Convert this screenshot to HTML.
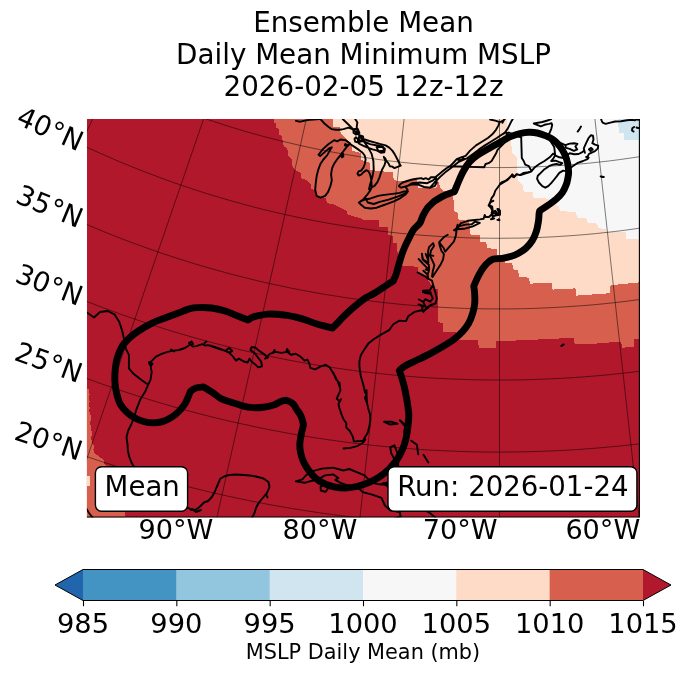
<!DOCTYPE html>
<html lang="en"><head><meta charset="utf-8"><title>Ensemble Mean Daily Mean Minimum MSLP</title>
<style>html,body{margin:0;padding:0;background:#fff;}body{width:688px;height:674px;position:relative;overflow:hidden;font-family:"DejaVu Sans","Liberation Sans",sans-serif;}</style></head>
<body>
<svg width="688" height="674" viewBox="0 0 688 674" style="position:absolute;left:0;top:0;display:block">
<defs><clipPath id="mc"><rect x="86.9" y="118.9" width="553.1" height="398.4"/></clipPath></defs>
<rect x="0" y="0" width="688" height="674" fill="#fff"/>
<g clip-path="url(#mc)">
<rect x="86.9" y="118.9" width="553.1" height="398.4" fill="#b2182b"/>
<path d="M273.5 119.0 L273.5 123.0 L275.7 123.0 L275.7 128.4 L278.4 128.4 L279.2 134.6 L281.9 136.4 L282.8 141.7 L283.7 146.2 L287.3 147.9 L288.1 155.1 L291.7 159.5 L292.6 166.6 L295.3 170.2 L300.6 172.9 L301.5 178.2 L306.8 180.0 L310.4 183.5 L311.3 188.9 L315.7 190.7 L316.6 196.0 L325.5 197.8 L327.3 203.1 L335.3 204.9 L339.8 207.6 L346.0 210.2 L347.8 214.7 L357.6 217.4 L364.7 220.0 L378.9 219.9 L378.9 226.9 L387.8 227.5 L388.4 235.2 L392.6 235.8 L393.1 242.9 L397.3 243.5 L397.9 266.0 L417.5 266.6 L418.1 274.3 L427.0 274.9 L428.0 279.8 L433.4 288.7 L438.3 289.6 L438.3 322.2 L442.5 322.8 L443.1 331.7 L455.5 332.3 L456.0 339.5 L478.1 340.0 L478.7 347.7 L495.9 347.7 L496.5 341.2 L516.0 340.5 L548.5 339.0 L573.5 337.8 L574.8 344.0 L591.0 344.0 L621.0 341.5 L622.2 347.8 L633.5 346.5 L633.5 339.0 L641.0 339.0 L641.0 118.0 L273.5 118.0Z" fill="#d6604d" shape-rendering="crispEdges"/>
<path d="M332.7 118.0 L332.7 127.5 L339.8 126.9 L339.8 131.6 L344.0 137.0 L346.5 139.5 L351.7 144.7 L352.3 150.6 L360.6 153.0 L361.2 160.1 L369.5 162.5 L370.1 169.6 L377.2 170.8 L385.7 171.7 L392.8 172.0 L393.7 180.0 L398.1 181.0 L416.8 180.0 L417.7 188.0 L436.4 188.0 L437.3 181.8 L439.1 181.8 L440.0 188.0 L443.5 190.7 L446.2 191.6 L453.3 197.0 L454.2 211.2 L457.8 213.0 L458.7 220.1 L469.3 220.8 L469.9 229.3 L470.6 235.2 L479.7 235.2 L480.4 241.7 L486.3 242.4 L486.9 248.2 L496.8 248.9 L497.5 255.0 L504.0 256.0 L505.0 262.5 L512.2 263.4 L513.4 269.3 L518.1 270.5 L519.3 276.5 L528.9 277.7 L530.0 283.6 L551.5 282.9 L552.7 289.6 L575.4 288.4 L576.5 295.6 L609.9 293.2 L610.6 285.3 L641.0 282.2 L641.0 118.0Z" fill="#fddbc7" shape-rendering="crispEdges"/>
<path d="M506.9 118.0 L506.9 125.7 L509.6 132.8 L511.4 145.3 L512.3 152.4 L516.7 157.7 L517.6 173.8 L518.5 180.9 L522.9 185.3 L523.8 191.6 L532.7 192.4 L533.6 197.8 L548.8 198.7 L549.6 204.0 L558.5 205.8 L560.3 211.1 L575.5 212.0 L577.2 217.4 L586.1 218.3 L587.9 222.7 L596.8 223.6 L598.6 228.0 L606.0 229.5 L606.5 231.5 L626.0 232.2 L626.0 238.5 L641.0 239.8 L641.0 118.0Z" fill="#f7f7f7" shape-rendering="crispEdges"/>
<path d="M617.5 118.0 L617.5 127.0 L619.0 127.0 L619.0 133.0 L624.0 133.4 L624.0 139.9 L641.0 139.5 L641.0 118.0Z" fill="#d1e5f0" shape-rendering="crispEdges"/>
<path d="M86.0 389.3 L89.0 389.3 L89.7 395.0 L88.5 396.0 L89.7 402.0 L88.5 403.0 L89.9 409.0 L88.7 410.0 L90.3 413.0 L91.0 420.0 L89.8 421.6 L91.2 428.0 L92.0 435.8 L90.7 436.7 L92.6 444.7 L93.8 445.6 L93.4 450.1 L94.8 453.6 L104.0 459.9 L103.6 463.4 L106.0 466.0 L108.0 472.0 L112.0 480.0 L114.0 488.0 L118.0 496.0 L120.0 504.0 L124.6 510.0 L124.6 518.0 L86.0 518.0Z" fill="#d6604d" shape-rendering="crispEdges"/>
<path d="M86.0 475.8 L90.4 475.8 L89.5 486.0 L86.0 486.0Z" fill="#fddbc7" shape-rendering="crispEdges"/>
<path d="M204.4 -117.6 L-142.3 616.6 M275.0 -88.9 L11.2 679.0 M348.3 -68.2 L170.6 724.1 M423.4 -55.6 L334.1 751.4 M499.5 -51.4 L499.5 760.6 M575.6 -55.6 L664.9 751.4 M650.7 -68.2 L828.4 724.1 M-140.3 439.0 L-127.3 446.0 L-114.1 452.8 L-100.9 459.5 L-87.6 466.0 L-74.2 472.4 L-60.8 478.7 L-47.3 484.8 L-33.7 490.8 L-20.1 496.6 L-6.4 502.2 L7.4 507.7 L21.2 513.1 L35.1 518.3 L49.0 523.3 L63.0 528.2 L77.0 533.0 L91.1 537.5 L105.3 542.0 L119.5 546.2 L133.7 550.3 L148.0 554.3 L162.3 558.1 L176.7 561.7 L191.1 565.2 L205.5 568.5 L220.0 571.7 L234.5 574.7 L249.0 577.6 L263.6 580.2 L278.2 582.8 L292.9 585.1 L307.5 587.3 L322.2 589.4 L336.9 591.2 L351.6 592.9 L366.3 594.5 L381.1 595.9 L395.9 597.1 L410.6 598.2 L425.4 599.1 L440.2 599.8 L455.0 600.4 L469.9 600.8 L484.7 601.0 L499.5 601.1 L514.3 601.0 L529.1 600.8 L544.0 600.4 L558.8 599.8 L573.6 599.1 L588.4 598.2 L603.1 597.1 L617.9 595.9 L632.7 594.5 L647.4 592.9 L662.1 591.2 L676.8 589.4 L691.5 587.3 L706.1 585.1 L720.8 582.8 L735.4 580.2 L750.0 577.6 L764.5 574.7 L779.0 571.7 L793.5 568.5 L807.9 565.2 L822.3 561.7 L836.7 558.1 L851.0 554.3 L865.3 550.3 M-104.4 372.6 L-92.0 379.2 L-79.6 385.6 L-67.1 391.9 L-54.6 398.1 L-42.0 404.2 L-29.3 410.1 L-16.6 415.8 L-3.8 421.4 L9.1 426.9 L22.0 432.3 L35.0 437.5 L48.1 442.5 L61.2 447.4 L74.3 452.2 L87.5 456.8 L100.8 461.3 L114.1 465.6 L127.4 469.8 L140.8 473.8 L154.3 477.7 L167.7 481.4 L181.2 485.0 L194.8 488.4 L208.4 491.7 L222.0 494.9 L235.7 497.8 L249.4 500.7 L263.1 503.4 L276.9 505.9 L290.7 508.3 L304.5 510.5 L318.3 512.6 L332.2 514.5 L346.0 516.3 L359.9 517.9 L373.8 519.3 L387.8 520.7 L401.7 521.8 L415.6 522.8 L429.6 523.7 L443.6 524.4 L457.5 524.9 L471.5 525.3 L485.5 525.5 L499.5 525.6 L513.5 525.5 L527.5 525.3 L541.5 524.9 L555.4 524.4 L569.4 523.7 L583.4 522.8 L597.3 521.8 L611.2 520.7 L625.2 519.3 L639.1 517.9 L653.0 516.3 L666.8 514.5 L680.7 512.6 L694.5 510.5 L708.3 508.3 L722.1 505.9 L735.9 503.4 L749.6 500.7 L763.3 497.8 L777.0 494.9 L790.6 491.7 L804.2 488.4 L817.8 485.0 L831.3 481.4 L844.7 477.7 M-69.4 307.9 L-57.7 314.1 L-46.0 320.2 L-34.3 326.2 L-22.5 332.0 L-10.6 337.7 L1.4 343.2 L13.4 348.7 L25.4 354.0 L37.5 359.1 L49.7 364.2 L62.0 369.1 L74.2 373.8 L86.6 378.4 L99.0 382.9 L111.4 387.3 L123.9 391.5 L136.4 395.6 L149.0 399.5 L161.6 403.3 L174.3 407.0 L187.0 410.5 L199.7 413.8 L212.5 417.1 L225.3 420.2 L238.1 423.1 L251.0 425.9 L263.9 428.6 L276.8 431.1 L289.8 433.5 L302.8 435.8 L315.8 437.9 L328.8 439.8 L341.9 441.6 L354.9 443.3 L368.0 444.8 L381.1 446.2 L394.2 447.4 L407.4 448.5 L420.5 449.5 L433.7 450.3 L446.8 450.9 L460.0 451.4 L473.2 451.8 L486.3 452.0 L499.5 452.1 L512.7 452.0 L525.8 451.8 L539.0 451.4 L552.2 450.9 L565.3 450.3 L578.5 449.5 L591.6 448.5 L604.8 447.4 L617.9 446.2 L631.0 444.8 L644.1 443.3 L657.1 441.6 L670.2 439.8 L683.2 437.9 L696.2 435.8 L709.2 433.5 L722.2 431.1 L735.1 428.6 L748.0 425.9 L760.9 423.1 L773.7 420.2 L786.5 417.1 L799.3 413.8 L812.0 410.5 L824.7 407.0 M-35.0 244.6 L-24.1 250.4 L-13.1 256.1 L-2.1 261.7 L9.0 267.2 L20.2 272.5 L31.4 277.8 L42.7 282.9 L54.0 287.8 L65.4 292.7 L76.8 297.4 L88.3 302.0 L99.9 306.5 L111.5 310.8 L123.1 315.1 L134.8 319.1 L146.5 323.1 L158.3 326.9 L170.1 330.6 L182.0 334.2 L193.9 337.6 L205.8 340.9 L217.8 344.1 L229.8 347.1 L241.8 350.1 L253.9 352.8 L266.0 355.5 L278.1 358.0 L290.3 360.4 L302.4 362.6 L314.6 364.7 L326.9 366.7 L339.1 368.5 L351.4 370.2 L363.6 371.8 L375.9 373.2 L388.3 374.5 L400.6 375.7 L412.9 376.7 L425.3 377.6 L437.6 378.3 L450.0 378.9 L462.4 379.4 L474.7 379.8 L487.1 380.0 L499.5 380.0 L511.9 380.0 L524.3 379.8 L536.6 379.4 L549.0 378.9 L561.4 378.3 L573.7 377.6 L586.1 376.7 L598.4 375.7 L610.7 374.5 L623.1 373.2 L635.4 371.8 L647.6 370.2 L659.9 368.5 L672.1 366.7 L684.4 364.7 L696.6 362.6 L708.7 360.4 L720.9 358.0 L733.0 355.5 L745.1 352.8 L757.2 350.1 L769.2 347.1 L781.2 344.1 L793.2 340.9 L805.1 337.6 M-1.2 182.1 L9.0 187.5 L19.3 192.9 L29.7 198.1 L40.1 203.3 L50.5 208.3 L61.0 213.2 L71.6 217.9 L82.2 222.6 L92.9 227.1 L103.6 231.6 L114.4 235.9 L125.2 240.1 L136.1 244.1 L147.0 248.1 L157.9 251.9 L168.9 255.6 L179.9 259.2 L191.0 262.7 L202.1 266.0 L213.2 269.2 L224.4 272.3 L235.6 275.3 L246.9 278.1 L258.1 280.9 L269.4 283.5 L280.8 285.9 L292.1 288.3 L303.5 290.5 L314.9 292.6 L326.3 294.6 L337.8 296.4 L349.3 298.2 L360.7 299.7 L372.2 301.2 L383.8 302.6 L395.3 303.8 L406.8 304.9 L418.4 305.8 L430.0 306.6 L441.5 307.3 L453.1 307.9 L464.7 308.4 L476.3 308.7 L487.9 308.9 L499.5 308.9 L511.1 308.9 L522.7 308.7 L534.3 308.4 L545.9 307.9 L557.5 307.3 L569.0 306.6 L580.6 305.8 L592.2 304.9 L603.7 303.8 L615.2 302.6 L626.8 301.2 L638.3 299.7 L649.7 298.2 L661.2 296.4 L672.7 294.6 L684.1 292.6 L695.5 290.5 L706.9 288.3 L718.2 285.9 L729.6 283.5 L740.9 280.9 L752.1 278.1 L763.4 275.3 L774.6 272.3 L785.8 269.2 M32.5 119.9 L42.0 125.0 L51.6 130.0 L61.2 134.9 L70.9 139.7 L80.7 144.4 L90.5 148.9 L100.4 153.4 L110.3 157.7 L120.2 162.0 L130.2 166.1 L140.3 170.1 L150.4 174.0 L160.5 177.8 L170.7 181.5 L180.9 185.1 L191.1 188.5 L201.4 191.9 L211.7 195.1 L222.1 198.2 L232.5 201.2 L242.9 204.1 L253.4 206.9 L263.8 209.6 L274.4 212.1 L284.9 214.5 L295.5 216.8 L306.1 219.0 L316.7 221.1 L327.3 223.1 L338.0 224.9 L348.7 226.6 L359.4 228.2 L370.1 229.7 L380.8 231.1 L391.5 232.3 L402.3 233.5 L413.1 234.5 L423.9 235.4 L434.6 236.1 L445.4 236.8 L456.2 237.3 L467.1 237.8 L477.9 238.1 L488.7 238.2 L499.5 238.3 L510.3 238.2 L521.1 238.1 L531.9 237.8 L542.8 237.3 L553.6 236.8 L564.4 236.1 L575.1 235.4 L585.9 234.5 L596.7 233.5 L607.5 232.3 L618.2 231.1 L628.9 229.7 L639.6 228.2 L650.3 226.6 L661.0 224.9 L671.7 223.1 L682.3 221.1 L692.9 219.0 L703.5 216.8 L714.1 214.5 L724.6 212.1 L735.2 209.6 L745.6 206.9 L756.1 204.1 L766.5 201.2 M66.1 57.7 L75.0 62.5 L83.9 67.1 L92.9 71.6 L101.9 76.1 L110.9 80.4 L120.0 84.6 L129.2 88.8 L138.3 92.8 L147.6 96.7 L156.9 100.6 L166.2 104.3 L175.5 107.9 L184.9 111.5 L194.4 114.9 L203.8 118.2 L213.4 121.4 L222.9 124.5 L232.5 127.5 L242.1 130.4 L251.7 133.2 L261.4 135.9 L271.1 138.4 L280.8 140.9 L290.6 143.2 L300.4 145.5 L310.2 147.6 L320.0 149.7 L329.9 151.6 L339.7 153.4 L349.6 155.1 L359.5 156.7 L369.5 158.2 L379.4 159.6 L389.4 160.9 L399.3 162.0 L409.3 163.1 L419.3 164.0 L429.3 164.8 L439.3 165.6 L449.3 166.2 L459.4 166.7 L469.4 167.1 L479.4 167.3 L489.5 167.5 L499.5 167.6 L509.5 167.5 L519.6 167.3 L529.6 167.1 L539.6 166.7 L549.7 166.2 L559.7 165.6 L569.7 164.8 L579.7 164.0 L589.7 163.1 L599.7 162.0 L609.6 160.9 L619.6 159.6 L629.5 158.2 L639.5 156.7 L649.4 155.1 L659.3 153.4 L669.1 151.6 L679.0 149.7 L688.8 147.6 L698.6 145.5 L708.4 143.2 L718.2 140.9 L727.9 138.4 L737.6 135.9 L747.3 133.2 M100.2 -5.1 L108.3 -0.7 L116.5 3.6 L124.8 7.8 L133.1 11.8 L141.4 15.8 L149.8 19.7 L158.2 23.6 L166.7 27.3 L175.2 30.9 L183.7 34.4 L192.3 37.9 L201.0 41.2 L209.6 44.4 L218.3 47.6 L227.1 50.6 L235.8 53.6 L244.6 56.5 L253.4 59.2 L262.3 61.9 L271.2 64.5 L280.1 66.9 L289.0 69.3 L298.0 71.6 L307.0 73.7 L316.0 75.8 L325.0 77.8 L334.1 79.7 L343.2 81.4 L352.3 83.1 L361.4 84.7 L370.5 86.2 L379.7 87.5 L388.8 88.8 L398.0 90.0 L407.2 91.0 L416.4 92.0 L425.6 92.9 L434.8 93.6 L444.0 94.3 L453.3 94.9 L462.5 95.3 L471.8 95.7 L481.0 95.9 L490.3 96.1 L499.5 96.1 L508.7 96.1 L518.0 95.9 L527.2 95.7 L536.5 95.3 L545.7 94.9 L555.0 94.3 L564.2 93.6 L573.4 92.9 L582.6 92.0 L591.8 91.0 L601.0 90.0 L610.2 88.8 L619.3 87.5 L628.5 86.2 L637.6 84.7 L646.7 83.1 L655.8 81.4 L664.9 79.7 L674.0 77.8 L683.0 75.8 L692.0 73.7 L701.0 71.6 L710.0 69.3 L718.9 66.9 L727.8 64.5" fill="none" stroke="#000" stroke-opacity="0.5" stroke-width="1.0"/>
<path d="M350.1 143.5 L347.1 146.5 L344.2 150.2 L341.2 154.3 L337.5 158.8 L334.2 163.7 L332.0 168.4 L331.1 174.3 L331.8 180.3 L330.4 186.2 L328.1 191.9 L325.2 195.9 L320.4 197.6 L316.7 195.9 L315.2 189.9 L315.8 182.5 L316.7 175.8 L318.2 169.9 L320.4 164.0 L323.4 159.5 L327.1 155.4 L329.8 150.6 L331.8 147.3 L328.9 148.5 L324.4 152.4 L320.1 156.1 L318.5 154.8 L322.9 149.1 L328.3 144.2 L334.2 140.2 L337.2 141.4 L340.4 139.5 L345.6 140.2 L350.1 143.5 M341.6 153.3 L343.1 153.9 L343.4 156.5 L341.9 157.3 L341.3 155.1 L341.6 153.3 M345.2 144.1 L346.7 144.7 L346.1 145.9 L344.9 145.3 L345.2 144.1 M295.9 120.9 L300.4 121.7 L304.8 120.6 L309.3 119.9 L313.7 119.5 L319.7 119.0 M320.4 119.0 L324.1 123.2 L328.6 126.9 L331.5 129.1 L336.0 129.8 L339.7 129.8 L343.4 129.1 L348.6 127.6 L351.6 128.8 L354.2 130.4 L356.0 132.1 L357.5 134.0 L359.3 135.0 M342.7 119.0 L347.1 123.2 L351.6 127.6 L355.3 131.3 L357.5 134.0 M355.2 119.0 L357.4 122.4 L356.7 126.9 L357.4 131.3 L358.9 134.3 L360.4 137.3 M360.4 137.3 L364.1 141.7 L367.8 146.9 L371.5 153.6 L373.4 161.0 L373.7 169.9 L372.3 177.3 L370.0 184.7 L369.0 189.2 M350.0 143.9 L351.2 144.7 L354.5 146.9 L358.9 149.9 L362.6 152.8 L364.8 155.8 L365.6 159.5 L364.8 164.0 L363.4 167.7 L361.1 170.6 L358.6 171.4 L357.4 173.6 L358.6 175.5 L361.1 174.6 L363.6 172.1 L366.3 170.2 L368.5 171.4 L370.0 174.3 L371.1 178.8 L371.5 183.2 L371.7 187.3 L370.5 189.9 L369.0 192.2 L367.5 194.4 L365.6 196.6 L363.1 199.6 L360.4 201.4 L358.9 202.5 M360.4 137.3 L364.8 139.5 L369.3 141.0 L374.5 142.4 L379.7 143.9 L385.6 145.4 L389.3 147.6 L392.3 150.6 L394.5 153.9 L396.3 157.3 L398.2 161.0 L399.7 164.0 L400.7 165.7 L397.5 166.9 L394.5 168.1 L392.3 166.6 L389.8 166.2 L388.3 163.2 L386.4 161.0 L385.3 158.3 L383.8 156.8 L385.6 161.3 L384.4 165.4 L382.3 169.2 L380.9 172.9 L379.4 177.6 L377.4 182.1 L374.5 185.9 L371.7 187.3 M359.4 140.5 L364.2 141.7 L370.1 144.1 L376.0 145.3 L382.0 146.5 L384.9 148.8 L384.3 152.4 L380.8 152.7 L377.2 150.6 L372.5 149.4 L367.7 147.6 L363.0 145.6 L358.8 143.5 L359.4 140.5 M376.6 147.0 L383.2 147.0 L383.8 150.6 L378.4 151.2 L376.6 147.0 M353.5 129.2 L357.6 128.6 L359.4 132.8 L355.9 134.6 L353.5 132.8 L353.5 129.2 M359.4 135.2 L363.0 136.4 L363.6 140.5 L360.6 141.7 L358.8 138.7 L359.4 135.2 M355.9 137.3 L358.2 139.5 L357.4 142.4 L355.2 141.7 L354.5 138.7 L355.9 137.3 M358.9 202.5 L361.1 204.8 L364.8 207.7 L370.8 208.5 L376.7 207.7 L382.6 205.5 L388.6 203.3 L394.5 201.1 L400.4 198.1 L405.6 194.4 L407.9 191.4 L404.2 191.4 L399.7 192.9 L394.5 193.6 L388.6 194.4 L382.6 195.1 L378.2 195.9 L373.7 197.3 L369.3 198.8 L364.8 199.6 L361.1 201.1 L358.9 202.5 M365.6 198.1 L367.8 202.5 L373.7 204.0 L379.7 201.8 L388.6 199.6 L397.5 196.6 L404.9 193.6 L407.6 189.9 L405.6 187.0 M399.0 186.2 L401.2 187.7 L406.4 186.2 L412.3 184.4 L418.2 184.7 L424.2 187.0 L430.1 187.7 L434.6 186.2 L436.8 182.5 L436.1 178.8 L435.3 177.3 L430.9 177.3 L428.6 179.5 L425.7 178.1 L423.4 179.1 L421.2 178.1 L416.8 178.8 L412.3 179.5 L407.1 181.0 L402.7 182.5 L399.7 184.7 L399.0 186.2 M405.6 187.0 L412.3 183.2 L419.7 182.5 L427.2 183.2 L433.1 180.3 L436.1 178.1 M435.3 177.3 L439.0 174.3 L443.5 170.6 L447.2 167.7 L450.0 166.2 M450.0 166.2 L453.7 162.5 L456.7 159.2 L461.2 157.3 L465.6 155.8 L470.1 150.6 L476.0 145.4 L481.9 141.7 L487.9 138.0 L492.3 134.3 L496.0 129.8 L498.5 125.4 L499.7 122.1 L495.3 120.6 L490.1 119.5 M499.7 122.1 L502.7 120.9 L504.9 119.0 M430.0 187.7 L434.5 182.5 L440.4 176.6 L446.3 171.4 L452.3 166.9 L458.2 162.2 L464.9 159.1 L461.2 157.3 M456.7 159.2 L459.7 160.3 L464.9 159.1 L467.1 158.3 L473.0 153.9 L479.0 149.4 L484.9 145.4 L490.8 141.7 L496.8 138.0 L501.2 135.0 L504.9 132.5 L507.9 128.4 L510.1 123.9 L511.6 120.9 L512.8 119.0 M502.7 134.3 L505.7 132.5 L507.9 133.1 L506.4 135.0 M450.0 166.2 L459.7 166.5 L470.8 166.9 L484.2 167.2 L485.6 164.0 L488.6 163.2 L491.6 161.0 L493.8 157.3 L496.0 153.6 L497.5 149.9 L502.7 144.7 L507.2 140.2 L513.1 134.3 M530.0 172.1 L525.0 173.6 L520.5 175.1 L516.8 174.3 L514.6 176.6 L512.3 174.3 L510.1 177.3 L507.2 180.3 L503.4 182.5 L499.7 184.7 L497.5 187.7 L495.3 190.7 L493.8 195.1 L491.6 198.1 L490.1 202.5 L488.6 205.5 L490.8 207.7 L492.3 210.7 L491.6 212.9 L495.3 210.7 L496.8 212.9 L495.3 215.0 M508.9 132.5 L514.8 135.0 L521.2 137.3 L521.5 147.6 L521.8 158.0 L523.7 161.0 L525.2 164.7 L528.9 166.2 L530.4 169.2 L531.5 171.4 M531.5 171.4 L528.2 172.1 L523.7 172.9 L520.0 175.1 L516.3 174.3 L514.1 177.3 L511.1 175.8 L508.2 178.8 L505.2 181.0 L501.5 182.5 L500.0 184.0 M531.5 171.1 L534.9 167.2 L539.3 164.0 L544.5 161.0 L549.7 157.3 L553.1 153.6 L555.2 155.4 L553.4 158.3 L551.2 161.0 L555.6 160.7 L559.3 162.2 L562.3 163.2 L560.1 164.9 L556.4 164.0 L552.7 164.7 L549.0 166.2 L544.5 169.2 L540.8 172.9 L537.8 175.8 L537.1 178.8 L538.9 182.5 L542.3 186.2 L545.3 187.7 L548.2 186.2 L551.2 183.2 L554.2 179.5 L557.1 175.8 L559.3 172.9 L563.1 170.6 L566.0 171.1 L569.7 168.4 L572.7 166.2 L577.2 163.2 L583.1 161.0 L587.5 159.1 L588.6 157.7 L586.1 157.0 M555.2 155.4 L559.3 157.3 L563.8 158.0 L569.7 153.3 L574.2 154.3 L578.6 154.0 L582.3 152.1 L584.3 150.6 L584.9 152.8 M584.9 152.8 L583.8 148.4 L586.1 143.2 L588.6 138.0 L590.8 135.3 L593.0 135.8 L593.5 139.5 L592.3 143.2 L595.0 144.7 L598.2 145.7 L597.9 148.4 L595.0 151.1 L591.2 152.8 L589.0 153.9 L587.5 156.5 L588.6 157.7 M589.0 149.4 L591.2 147.9 L592.7 149.4 L590.5 151.1 L589.0 149.4 M565.3 145.1 L569.7 143.6 L574.2 143.2 L577.4 143.9 L575.4 146.5 L577.2 149.4 L573.9 150.9 L569.7 148.8 L566.0 147.9 L565.3 145.1 L559.3 142.4 L554.0 138.9 M581.0 126.6 L579.5 129.1 L577.7 131.6 M533.8 123.5 L542.3 122.0 L547.5 120.5 L551.2 119.0 M533.8 123.5 L537.1 124.8 L540.8 126.3 L544.5 124.8 L549.0 123.9 L551.6 123.2 L552.2 125.1 L551.2 129.1 L549.7 132.5 L548.2 136.1 L550.4 141.0 L554.2 146.9 L555.2 155.4 M502.4 122.7 L504.5 119.0 M601.3 176.6 L602.4 177.0 M601.1 118.9 L601.5 120.3 L602.6 122.7 L605.6 123.9 L610.4 122.7 L615.1 121.5 L621.0 121.2 L627.0 120.3 L631.7 119.7 L634.7 120.3 L636.5 119.5 L639.4 119.7 M634.1 126.9 L632.3 128.3 L632.0 130.4 L633.5 131.6 M636.5 127.5 L638.2 128.1 L639.4 127.8 M600.6 176.5 L603.8 177.0 M87.0 312.5 L94.0 317.5 L100.0 312.0 L107.7 311.0 L114.5 314.3 L119.3 322.0 L122.2 330.7 L124.1 339.4 L126.0 349.0 L128.9 354.8 L128.9 368.3 L133.8 374.1 L141.5 379.9 L148.2 384.7 M148.2 384.7 L145.3 391.4 L140.5 399.1 L136.6 408.8 L133.8 418.4 L131.0 425.0 L128.0 431.0 L126.5 437.5 L127.5 444.0 L127.8 450.0 L129.0 456.0 L131.5 462.5 L134.0 467.0 L137.0 474.0 L139.0 481.0 L137.5 486.0 L141.0 492.0 L147.0 498.0 L152.0 504.0 L158.0 507.0 L165.0 506.5 L172.0 507.0 L180.0 508.5 L187.8 507.5 L191.5 510.0 L196.0 509.5 L199.0 507.5 L204.0 502.5 L208.0 501.0 L211.5 497.5 L214.5 492.5 L216.5 487.5 L218.5 483.0 L220.2 478.8 L224.0 476.5 L229.0 475.0 L236.0 474.5 L244.0 475.0 L250.0 475.5 L256.0 476.5 L263.5 478.5 L268.5 482.0 L269.5 487.0 L267.2 492.5 L264.0 496.5 L261.0 500.0 L258.0 504.0 L256.0 508.0 L254.5 513.0 L252.0 518.0 M266.0 494.0 L267.5 497.5 M192.0 509.0 L196.0 512.0 L201.0 510.0 M148.2 384.7 L150.5 379.9 L151.7 372.1 L150.5 365.4 L149.2 363.5 L152.1 360.6 L155.9 356.7 L161.7 353.8 L167.5 351.9 L172.3 350.9 L179.1 350.0 L184.9 348.0 L190.6 344.2 L192.5 346.5 L196.4 346.1 L202.2 344.2 L205.0 345.5 L208.0 345.1 L213.8 347.1 L219.6 349.0 L225.4 350.9 L230.0 352.9 M149.0 362.0 L152.5 363.5 L151.0 366.0 M171.0 349.5 L174.0 351.5 M189.0 343.0 L191.5 341.5 L193.0 344.0 M204.5 343.0 L206.5 341.5 M210.0 345.5 L217.7 348.0 L225.4 350.9 L229.3 352.9 L233.1 356.7 L236.0 360.6 L238.9 358.6 L243.8 361.5 L247.6 362.5 L249.5 358.6 L251.5 361.5 L255.3 364.4 L258.2 367.3 L262.1 366.4 L261.1 361.5 L257.3 356.7 L254.4 352.9 L250.5 350.0 L251.5 347.1 L255.3 347.5 L259.2 350.9 L265.0 354.8 L267.9 357.7 L265.0 358.6 L269.8 353.8 L275.6 351.9 L281.4 352.9 L287.1 351.9 L291.0 354.8 L295.8 353.8 L300.6 356.7 L304.5 360.6 L307.4 359.6 L309.3 363.5 L310.3 367.9 L315.1 369.3 L320.9 366.4 L325.7 364.8 L329.6 367.3 L332.5 372.1 L335.4 377.0 L338.3 382.8 L340.0 387.6 M226.4 350.0 L229.3 348.0 L232.2 350.9 L229.3 352.9 M272.7 352.9 L274.6 350.0 M286.2 351.9 L287.1 349.0 L289.1 351.9 M333.5 372.8 L336.2 379.7 L339.5 383.0 L340.4 390.4 L336.7 398.6 L339.5 401.2 L341.1 399.2 L338.5 403.9 L339.3 407.7 L341.6 414.6 L343.5 419.2 L346.3 423.2 L346.3 427.6 L349.9 431.0 L353.0 437.2 L353.8 441.4 L356.5 441.3 L360.5 441.0 L363.2 440.6 L364.9 437.2 L367.6 433.1 L369.4 426.0 L370.3 420.3 L370.1 414.5 L368.2 408.4 L366.9 402.5 L366.6 394.5 L365.0 392.1 L363.3 384.7 L360.7 375.7 L359.4 366.2 L359.4 361.2 L360.7 355.6 L363.8 350.2 L368.3 343.6 L373.7 339.2 L381.4 334.4 L389.1 330.2 L393.3 324.2 L399.5 320.6 L406.0 321.1 L408.2 316.3 L414.4 311.9 L421.6 310.3 L423.4 311.9 L426.4 307.8 L431.3 304.6 L435.6 303.5 L436.8 298.6 L435.5 292.8 L433.1 284.9 L432.0 280.6 L428.4 278.9 M366.5 390.2 L366.6 394.5 L364.9 397.9 L366.9 402.5 M343.6 448.5 L350.4 447.9 L357.2 446.2 L362.9 442.8 L365.3 439.4 M423.4 311.9 L421.8 306.8 L425.3 306.3 L423.3 301.9 L425.3 299.2 L430.3 301.7 L432.8 298.3 L430.8 293.9 L424.0 292.8 L423.0 290.6 L429.9 290.3 L432.5 285.5 M423.3 301.9 L418.9 299.5 M428.4 278.9 L427.6 274.6 L429.0 270.4 L425.7 269.5 L429.1 268.3 L428.8 264.8 L423.1 260.1 L421.9 253.6 L422.6 259.3 L428.4 262.6 L428.2 257.6 L428.1 251.3 L429.0 247.1 L433.1 243.1 L434.0 246.0 L430.9 250.8 L430.0 255.6 L432.5 260.8 L434.4 265.1 L432.9 270.7 L432.0 276.3 L432.5 277.0 L436.9 270.3 L440.5 264.8 L443.1 259.3 L443.9 254.0 L441.4 250.7 L439.5 244.9 L439.2 242.1 L440.7 244.3 L443.7 248.0 L445.2 251.6 L449.3 246.9 L453.9 241.5 L455.8 235.9 L456.5 231.0 L453.9 230.2 L456.6 228.2 L457.6 224.7 M456.6 229.3 L464.1 228.8 L472.8 226.3 L479.8 223.0 L475.0 221.7 L471.8 224.2 L465.4 224.6 L459.4 226.2 L456.6 228.2 M459.4 225.5 L460.6 223.4 L467.6 220.8 L475.1 220.0 L479.9 219.4 L483.6 218.8 L484.7 214.9 L485.7 217.0 L488.9 217.0 L492.6 213.5 L492.6 216.4 L496.3 215.3 L500.0 214.7 L500.0 210.7 L499.0 209.3 L497.4 209.0 L498.4 211.2 L499.5 212.9 L496.3 213.9 L493.7 212.8 L492.7 210.7 L492.2 206.5 L489.0 205.0 L490.6 202.2 L493.3 200.8 M491.0 219.2 L494.2 218.5 L493.1 217.8 L491.0 219.2 M497.4 219.9 L499.5 220.2 L499.0 219.2 M295.8 481.4 L302.4 479.4 L305.8 475.5 L311.9 471.3 L321.9 468.6 L332.9 467.7 L343.4 470.5 L349.1 469.0 L356.8 472.2 L364.6 475.3 L370.7 481.9 L377.3 484.0 L385.5 484.8 L393.1 491.4 L400.8 498.0 L408.6 503.7 L415.3 506.4 L422.1 508.4 L430.2 513.3 L436.8 518.8 L441.6 520.5 L439.4 523.1 L427.4 525.0 L417.7 523.4 L407.2 523.0 L397.4 523.0 L391.3 523.2 L395.0 518.3 L400.7 516.5 L399.7 512.0 L390.1 510.4 L384.9 505.5 L381.5 497.8 L372.2 494.6 L362.8 492.1 L357.2 487.0 L347.1 485.1 L340.5 482.8 L335.4 479.9 L338.4 478.0 L333.4 474.4 L325.0 475.4 L317.6 479.6 L309.7 481.3 L304.6 482.8 L295.8 481.4 M320.6 486.7 L325.1 484.7 L328.0 488.5 L325.5 491.9 L320.8 490.5 L320.6 486.7 M382.9 483.1 L389.6 484.4 L387.0 482.7 L382.9 483.1 M384.2 421.8 L389.8 424.5 L397.6 423.7 L391.3 421.7 L384.2 421.8 M399.9 420.3 L407.7 426.7 L408.8 429.7 L405.7 436.0 L404.1 432.3 L405.2 426.5 L399.9 420.3 M394.4 445.3 L397.1 452.1 L398.5 459.5 L398.0 466.0 L394.5 459.2 L391.1 453.0 L390.3 447.1 L394.4 445.3 M400.9 447.3 L403.5 447.2 M411.2 440.8 L416.9 444.8 L418.2 454.4 M423.5 454.8 L428.3 462.4 M418.0 467.6 L424.4 472.4 M428.6 469.7 L433.9 481.7 M561.4 345.9 L563.7 344.4 M86.0 508.0 L89.0 513.0 L93.0 518.0 M428.4 278.9 L425.2 276.5 L420.9 274.1 L417.6 272.4 M427.6 274.6 L423.4 270.7 M429.1 269.7 L422.8 263.6 L418.7 259.0 M428.1 259.8 L425.7 253.9 M430.1 254.9 L433.3 255.9 M439.2 242.1 L444.4 236.7 L447.7 234.8 M430.9 292.5 L422.9 292.0 M424.2 306.2 L418.5 304.4 M436.8 298.6 L435.4 303.4 L430.0 305.9 L425.1 309.9" fill="none" stroke="#000" stroke-width="1.9" stroke-linejoin="round" stroke-linecap="round"/>
<path d="M248.0 320.0 C246.4 319.4 242.2 317.8 238.4 316.3 C234.6 314.8 229.6 312.4 225.1 311.0 C220.6 309.6 216.1 308.6 211.7 308.0 C207.2 307.4 202.0 307.5 198.4 307.6 C194.8 307.7 193.3 307.7 190.0 308.6 C186.7 309.5 182.6 311.4 178.4 313.0 C174.2 314.6 169.6 316.3 165.1 318.0 C160.6 319.7 156.1 321.1 151.7 323.3 C147.2 325.5 142.1 328.6 138.4 331.0 C134.7 333.4 132.2 335.4 129.5 338.0 C126.8 340.6 124.0 343.1 122.0 346.5 C120.0 349.9 118.3 354.4 117.2 358.1 C116.1 361.8 115.7 365.3 115.3 368.8 C114.9 372.3 114.8 375.8 114.8 379.0 C114.8 382.2 115.2 385.2 115.6 388.0 C116.0 390.8 116.6 393.4 117.3 396.0 C118.0 398.6 118.5 401.1 120.0 403.7 C121.5 406.3 124.0 409.4 126.4 411.7 C128.8 414.0 131.5 416.1 134.4 417.7 C137.3 419.3 140.6 420.6 143.7 421.5 C146.8 422.4 150.0 422.9 153.1 422.9 C156.2 422.9 159.3 422.6 162.4 421.6 C165.5 420.6 169.0 418.9 171.8 417.1 C174.6 415.4 176.9 413.3 179.1 411.1 C181.3 408.9 183.5 406.1 185.1 403.7 C186.7 401.3 187.4 398.6 188.4 396.5 C189.4 394.4 189.5 392.6 190.8 391.2 C192.1 389.8 193.9 388.7 196.0 388.0 C198.1 387.3 202.3 387.2 203.6 387.0 C205.1 387.9 209.7 390.7 212.7 392.7 C215.7 394.7 218.2 397.2 221.4 398.8 C224.6 400.4 228.4 401.3 231.9 402.5 C235.4 403.7 238.8 404.9 242.3 405.8 C245.8 406.7 249.3 407.4 252.8 407.6 C256.3 407.8 259.8 407.6 263.3 407.2 C266.8 406.8 270.8 405.9 273.7 405.0 C276.6 404.1 278.6 402.3 280.7 401.5 C282.8 400.7 285.4 400.4 286.3 400.2 C287.4 400.8 291.2 402.2 292.9 403.6 C294.6 405.0 294.9 406.7 296.3 408.8 C297.7 410.9 299.9 413.6 301.1 416.3 C302.3 419.0 303.1 423.4 303.5 424.8 C303.2 426.2 302.1 430.3 301.5 433.3 C300.9 436.3 300.1 439.7 299.9 442.8 C299.7 445.9 299.9 449.1 300.5 452.2 C301.1 455.3 302.1 458.7 303.5 461.7 C304.9 464.7 306.7 467.5 308.6 470.2 C310.6 472.9 312.7 475.6 315.2 477.8 C317.7 480.0 320.5 481.9 323.7 483.4 C326.9 484.9 330.5 486.0 334.1 486.8 C337.7 487.6 341.7 488.1 345.5 488.0 C349.3 487.9 353.0 487.4 356.8 486.5 C360.6 485.6 364.3 484.5 368.1 482.9 C371.9 481.3 376.0 479.1 379.5 476.8 C383.0 474.5 386.0 472.0 388.9 469.2 C391.8 466.4 394.6 463.1 396.9 459.8 C399.2 456.5 401.0 452.9 402.5 449.4 C404.0 445.9 405.0 442.6 405.9 439.0 C406.8 435.4 407.3 431.5 407.8 427.7 C408.3 423.9 408.7 419.5 408.8 416.3 C408.9 413.1 408.6 411.7 408.2 408.6 C407.8 405.5 407.2 401.7 406.5 397.9 C405.8 394.1 404.9 389.5 404.1 386.0 C403.3 382.5 402.3 379.6 401.5 377.0 C400.7 374.4 399.7 371.7 399.3 370.6 C400.2 369.8 402.5 367.5 405.0 366.0 C407.5 364.5 410.3 363.3 414.2 361.4 C418.1 359.5 423.8 357.0 428.4 354.6 C432.9 352.2 437.4 349.7 441.5 347.3 C445.6 344.9 449.3 342.8 452.7 340.3 C456.1 337.8 459.3 334.9 462.0 332.1 C464.7 329.3 466.9 326.4 468.7 323.3 C470.5 320.2 471.7 316.6 472.7 313.3 C473.7 310.0 474.4 306.6 474.7 303.4 C475.0 300.2 474.8 297.0 474.7 294.1 C474.6 291.2 473.9 287.4 473.8 286.0 C474.4 284.7 476.1 280.6 477.4 278.0 C478.7 275.4 480.0 272.6 481.5 270.3 C483.0 268.0 484.3 266.0 486.2 264.2 C488.1 262.4 490.1 260.3 492.8 259.3 C495.5 258.3 499.0 258.8 502.1 258.3 C505.2 257.8 508.8 257.1 511.4 256.3 C514.0 255.5 515.6 254.8 518.0 253.5 C520.4 252.2 523.3 250.6 525.7 248.4 C528.1 246.2 530.6 243.3 532.4 240.4 C534.2 237.5 535.4 234.2 536.4 231.1 C537.4 228.0 537.9 224.6 538.4 221.7 C538.9 218.8 538.9 215.5 539.1 213.7 C539.3 211.9 539.6 211.3 539.7 210.8 C541.2 209.8 545.6 207.0 548.4 205.0 C551.2 203.0 554.1 201.1 556.4 199.0 C558.7 196.9 560.7 194.8 562.4 192.4 C564.1 190.0 565.4 187.0 566.4 184.3 C567.4 181.6 567.8 178.4 568.2 176.3 C568.6 174.2 568.7 174.0 568.6 171.8 C568.5 169.6 568.2 166.0 567.6 163.1 C567.0 160.2 566.0 157.1 564.7 154.3 C563.4 151.5 561.8 148.7 559.9 146.3 C558.0 143.9 555.6 141.5 553.3 139.8 C551.0 138.1 548.7 137.0 546.0 135.9 C543.3 134.8 540.2 133.6 537.3 133.0 C534.4 132.4 531.5 132.2 528.6 132.3 C525.7 132.4 522.8 132.9 519.9 133.6 C517.0 134.3 513.8 135.4 511.2 136.4 C508.6 137.4 507.0 138.3 504.4 139.7 C501.8 141.1 498.5 143.1 495.5 144.8 C492.5 146.5 489.5 148.1 486.5 149.8 C483.5 151.5 480.2 153.2 477.4 155.2 C474.6 157.2 471.9 159.3 469.6 161.9 C467.3 164.5 465.3 167.8 463.5 171.0 C461.7 174.2 460.3 177.5 458.8 181.0 C457.3 184.5 455.1 190.0 454.3 191.8 C453.5 192.1 451.4 192.7 449.5 193.4 C447.6 194.1 445.4 194.9 443.0 196.1 C440.6 197.3 436.6 199.8 435.0 200.8 C433.4 201.8 434.5 201.1 433.2 202.3 C431.9 203.5 429.1 205.9 427.3 208.2 C425.6 210.5 423.9 213.7 422.7 216.2 C421.5 218.7 421.4 220.8 419.9 223.0 C418.4 225.2 415.3 227.2 413.5 229.7 C411.7 232.1 410.8 234.8 409.3 237.7 C407.8 240.6 406.1 244.0 404.7 247.1 C403.3 250.2 402.2 253.3 401.2 256.4 C400.2 259.5 399.4 262.7 398.5 265.8 C397.6 268.9 396.7 272.6 395.8 275.1 C394.9 277.6 393.6 280.0 393.2 281.0 C391.9 281.8 387.3 284.8 385.5 286.0 C383.7 287.2 384.1 286.9 382.2 288.2 C380.3 289.4 376.6 291.9 374.0 293.5 C371.4 295.1 368.9 295.9 366.3 297.5 C363.7 299.1 361.2 301.2 358.6 303.2 C356.0 305.2 353.5 307.3 350.9 309.6 C348.3 311.9 345.4 314.8 343.1 317.0 C340.9 319.2 339.2 321.2 337.4 323.0 C335.6 324.8 333.3 327.2 332.5 328.0 C331.4 327.7 328.4 327.0 325.7 326.3 C323.0 325.6 319.3 324.7 316.1 323.7 C312.9 322.7 309.6 321.4 306.4 320.3 C303.2 319.2 300.0 318.2 296.8 317.4 C293.6 316.6 290.3 315.9 287.1 315.4 C283.9 314.9 280.7 314.5 277.5 314.3 C274.3 314.1 271.0 313.9 267.8 314.1 C264.6 314.3 261.0 315.1 258.4 315.6 C255.8 316.1 254.1 316.6 252.4 317.3 C250.7 318.0 248.7 319.6 248.0 320.0Z" fill="none" stroke="#000" stroke-width="6.9" stroke-linejoin="round"/>
</g>
<path d="M639.4 118.9 V517.05 H86.9" fill="none" stroke="#000" stroke-width="1.1"/>
<rect x="95.4" y="466.7" width="92.2" height="44.6" rx="6.2" ry="6.2" fill="#fff" stroke="#000" stroke-width="1.4"/>
<rect x="388" y="466.7" width="248.9" height="44.6" rx="6.2" ry="6.2" fill="#fff" stroke="#000" stroke-width="1.4"/>
<g opacity="0.999">
<text x="363.5" y="32" text-anchor="middle" font-size="27.78px" font-family="DejaVu Sans, Verdana, sans-serif" fill="#000">Ensemble Mean</text>
<text x="363.5" y="64" text-anchor="middle" font-size="27.78px" font-family="DejaVu Sans, Verdana, sans-serif" fill="#000">Daily Mean Minimum MSLP</text>
<text x="363.5" y="96" text-anchor="middle" font-size="27.78px" font-family="DejaVu Sans, Verdana, sans-serif" fill="#000">2026-02-05 12z-12z</text>
<text x="104.6" y="496.4" text-anchor="start" font-size="27.6px" font-family="DejaVu Sans, Verdana, sans-serif" fill="#000">Mean</text>
<text x="628.5" y="496.4" text-anchor="end" font-size="27.6px" font-family="DejaVu Sans, Verdana, sans-serif" fill="#000">Run: 2026-01-24</text>
<text x="213.3" y="538.75" text-anchor="end" font-size="27.1px" font-family="DejaVu Sans, Verdana, sans-serif" fill="#000">90°W</text>
<text x="357.4" y="538.75" text-anchor="end" font-size="27.1px" font-family="DejaVu Sans, Verdana, sans-serif" fill="#000">80°W</text>
<text x="497.5" y="538.75" text-anchor="end" font-size="27.1px" font-family="DejaVu Sans, Verdana, sans-serif" fill="#000">70°W</text>
<text x="640.2" y="538.75" text-anchor="end" font-size="27.1px" font-family="DejaVu Sans, Verdana, sans-serif" fill="#000">60°W</text>
<text transform="translate(78 151.7) rotate(24)" text-anchor="end" font-size="27.4px" font-family="DejaVu Sans, Verdana, sans-serif" fill="#000">40°N</text>
<text transform="translate(78 228.4) rotate(22.5)" text-anchor="end" font-size="27.4px" font-family="DejaVu Sans, Verdana, sans-serif" fill="#000">35°N</text>
<text transform="translate(78 306.2) rotate(21.2)" text-anchor="end" font-size="27.4px" font-family="DejaVu Sans, Verdana, sans-serif" fill="#000">30°N</text>
<text transform="translate(78 383.2) rotate(20)" text-anchor="end" font-size="27.4px" font-family="DejaVu Sans, Verdana, sans-serif" fill="#000">25°N</text>
<text transform="translate(78.4 460.8) rotate(18.5)" text-anchor="end" font-size="27.4px" font-family="DejaVu Sans, Verdana, sans-serif" fill="#000">20°N</text>
<text x="363" y="659.3" text-anchor="middle" font-size="20.83px" font-family="DejaVu Sans, Verdana, sans-serif" fill="#000">MSLP Daily Mean (mb)</text>
<text x="83" y="632.5" text-anchor="middle" font-size="27.3px" font-family="DejaVu Sans, Verdana, sans-serif" fill="#000">985</text>
<text x="176.333" y="632.5" text-anchor="middle" font-size="27.3px" font-family="DejaVu Sans, Verdana, sans-serif" fill="#000">990</text>
<text x="269.667" y="632.5" text-anchor="middle" font-size="27.3px" font-family="DejaVu Sans, Verdana, sans-serif" fill="#000">995</text>
<text x="363" y="632.5" text-anchor="middle" font-size="27.3px" font-family="DejaVu Sans, Verdana, sans-serif" fill="#000">1000</text>
<text x="456.333" y="632.5" text-anchor="middle" font-size="27.3px" font-family="DejaVu Sans, Verdana, sans-serif" fill="#000">1005</text>
<text x="549.667" y="632.5" text-anchor="middle" font-size="27.3px" font-family="DejaVu Sans, Verdana, sans-serif" fill="#000">1010</text>
<text x="643" y="632.5" text-anchor="middle" font-size="27.3px" font-family="DejaVu Sans, Verdana, sans-serif" fill="#000">1015</text>
</g>
<rect x="83.00" y="569.5" width="93.83" height="31" fill="#4393c3"/>
<rect x="176.33" y="569.5" width="93.83" height="31" fill="#92c5de"/>
<rect x="269.67" y="569.5" width="93.83" height="31" fill="#d1e5f0"/>
<rect x="363.00" y="569.5" width="93.83" height="31" fill="#f7f7f7"/>
<rect x="456.33" y="569.5" width="93.83" height="31" fill="#fddbc7"/>
<rect x="549.67" y="569.5" width="93.33" height="31" fill="#d6604d"/>
<path d="M83 569.5 L55 585 L83 600.5Z" fill="#2166ac"/>
<path d="M643 569.5 L671 585 L643 600.5Z" fill="#b2182b"/>
<path d="M83 569.5 H643 L671 585 L643 600.5 H83 L55 585Z" fill="none" stroke="#000" stroke-width="1" stroke-linejoin="miter"/>
<path d="M83.50 601 v5.2 M176.83 601 v5.2 M270.17 601 v5.2 M363.50 601 v5.2 M456.83 601 v5.2 M550.17 601 v5.2 M643.50 601 v5.2 " stroke="#000" stroke-width="1.07" fill="none"/>
</svg>
</body></html>
